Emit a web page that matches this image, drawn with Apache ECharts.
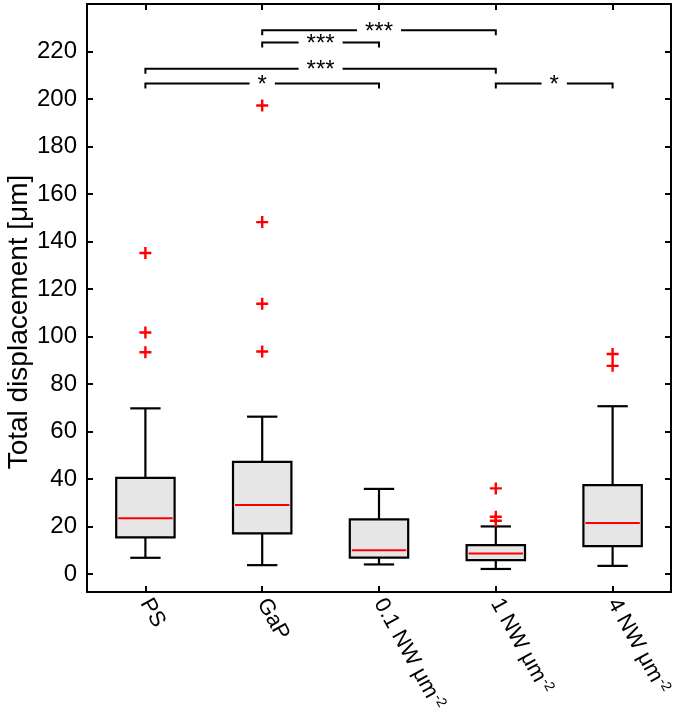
<!DOCTYPE html>
<html>
<head>
<meta charset="utf-8">
<script src="https://cdn.jsdelivr.net/npm/echarts@6/dist/echarts.min.js"></script>
<style>
  html, body { margin: 0; padding: 0; background: #fff; }
  #chart { width: 675px; height: 722px; }
</style>
</head>
<body>
<div id="chart"></div>
<script>
// ---- data ----
const categories = ['PS', 'GaP', '0.1 NW μm-2', '1 NW μm-2', '4 NW μm-2'];
const whiskerLow  = [6.9, 3.8, 4.1, 2.2, 3.5];
const quartile1   = [15.5, 17.2, 7.0, 5.9, 11.8];
const medians     = [23.5, 29.1, 10.1, 8.7, 21.5];
const quartile3   = [40.5, 47.3, 23.1, 12.2, 37.5];
const whiskerHigh = [69.8, 66.3, 35.9, 20.1, 70.7];

const outlierGroup = [0, 0, 0, 1, 1, 1, 1, 3, 3, 3, 4, 4];
const outlierValue = [135.2, 101.7, 93.4, 197.3, 148.2, 113.8, 93.7, 36.1, 24.2, 22.5, 92.7, 87.7];

const bracketFrom   = [1, 1, 0, 0, 3];
const bracketTo     = [3, 2, 3, 2, 4];
const bracketHeight = [228.9, 223.8, 212.7, 206.5, 206.5];
const bracketLabel  = ['***', '***', '***', '*', '*'];

const yTicks = [0, 20, 40, 60, 80, 100, 120, 140, 160, 180, 200, 220];

// ---- build ----
const boxData = categories.map((c, i) => [i, whiskerLow[i], quartile1[i], medians[i], quartile3[i], whiskerHigh[i]]);
const outlierData = outlierGroup.map((g, i) => [g, outlierValue[i]]);
const bracketData = bracketFrom.map((f, i) => [f, bracketHeight[i], bracketTo[i], i]);

const chart = echarts.init(document.getElementById('chart'), null, { renderer: 'canvas' });

const FONT = 'Liberation Sans, Arial, sans-serif';

function fmtCat(v) {
  const m = v.match(/^(.*μm)-2$/);
  if (m) return '{a|' + m[1] + '}{s|-2}';
  return '{a|' + v + '}';
}

const axisLineStyle = { show: true, onZero: false, lineStyle: { color: '#000', width: 2 } };
const tickStyle = { color: '#000', width: 2 };

const option = {
  animation: false,
  backgroundColor: '#fff',
  grid: { left: 87, right: 4, top: 4, bottom: 130, containLabel: false, outerBoundsMode: 'none' },
  xAxis: [
    {
      type: 'category', data: categories, position: 'bottom', boundaryGap: true,
      axisLine: axisLineStyle,
      axisTick: { show: true, inside: true, alignWithLabel: true, length: 6, lineStyle: tickStyle },
      axisLabel: {
        rotate: -61, margin: 8, color: '#000', fontFamily: FONT,
        formatter: fmtCat,
        rich: {
          a: { fontSize: 22, fontFamily: FONT, color: '#000' },
          s: { fontSize: 14, fontFamily: FONT, color: '#000', verticalAlign: 'top', padding: [0, 0, 9, 1] }
        }
      },
      splitLine: { show: false }
    },
    {
      type: 'category', data: categories, position: 'top', boundaryGap: true,
      axisLine: axisLineStyle,
      axisTick: { show: true, inside: true, alignWithLabel: true, length: 6, lineStyle: tickStyle },
      axisLabel: { show: false },
      splitLine: { show: false }
    }
  ],
  yAxis: [
    {
      type: 'value', min: -7.5, max: 240, position: 'left',
      axisLine: axisLineStyle,
      axisTick: { show: true, inside: true, length: 6, customValues: yTicks, lineStyle: tickStyle },
      axisLabel: { customValues: yTicks, fontSize: 24, fontFamily: FONT, color: '#000', margin: 10 },
      splitLine: { show: false }
    },
    {
      type: 'value', min: -7.5, max: 240, position: 'right',
      axisLine: axisLineStyle,
      axisTick: { show: true, inside: true, length: 6, customValues: yTicks, lineStyle: tickStyle },
      axisLabel: { show: false },
      splitLine: { show: false }
    }
  ],
  graphic: [
    {
      type: 'text', x: 19, y: 322, rotation: Math.PI / 2,
      style: { text: 'Total displacement [μm]', fontSize: 28, fontFamily: FONT, fill: '#000', align: 'center', verticalAlign: 'middle' }
    }
  ],
  series: [
    {
      type: 'custom', name: 'box', xAxisIndex: 0, yAxisIndex: 0,
      encode: { x: 0, y: [1, 2, 3, 4, 5] },
      data: boxData,
      renderItem: function (params, api) {
        const idx = api.value(0);
        const band = api.size([1, 0])[0];
        const bw = band * 0.5;
        const cw = band * 0.26;
        const pLow = api.coord([idx, api.value(1)]);
        const pQ1 = api.coord([idx, api.value(2)]);
        const pMed = api.coord([idx, api.value(3)]);
        const pQ3 = api.coord([idx, api.value(4)]);
        const pHigh = api.coord([idx, api.value(5)]);
        const x = pQ1[0];
        const line = { stroke: '#000', lineWidth: 2.2 };
        return {
          type: 'group',
          children: [
            { type: 'line', shape: { x1: x, y1: pLow[1], x2: x, y2: pQ1[1] }, style: line },
            { type: 'line', shape: { x1: x, y1: pQ3[1], x2: x, y2: pHigh[1] }, style: line },
            { type: 'line', shape: { x1: x - cw / 2, y1: pLow[1], x2: x + cw / 2, y2: pLow[1] }, style: line },
            { type: 'line', shape: { x1: x - cw / 2, y1: pHigh[1], x2: x + cw / 2, y2: pHigh[1] }, style: line },
            { type: 'rect', shape: { x: x - bw / 2, y: pQ3[1], width: bw, height: pQ1[1] - pQ3[1] },
              style: { fill: '#e6e6e6', stroke: '#000', lineWidth: 2.2 } },
            { type: 'line', shape: { x1: x - bw / 2 + 2, y1: pMed[1], x2: x + bw / 2 - 2, y2: pMed[1] },
              style: { stroke: '#ff0000', lineWidth: 2 } }
          ]
        };
      }
    },
    {
      type: 'scatter', name: 'outliers', xAxisIndex: 0, yAxisIndex: 0,
      data: outlierData,
      symbol: 'path://M4,0H6V4H10V6H6V10H4V6H0V4H4Z',
      symbolSize: 12,
      itemStyle: { color: '#ff0000', opacity: 1 }
    },
    {
      type: 'custom', name: 'brackets', xAxisIndex: 0, yAxisIndex: 0,
      encode: { x: 0, y: 1 },
      data: bracketData,
      renderItem: function (params, api) {
        const f = api.value(0);
        const h = api.value(1);
        const t = api.value(2);
        const i = api.value(3);
        const p1 = api.coord([f, h]);
        const p2 = api.coord([t, h]);
        const drop = 5;
        const mid = (p1[0] + p2[0]) / 2;
        return {
          type: 'group',
          children: [
            { type: 'polyline', shape: { points: [[p1[0], p1[1] + drop], [p1[0], p1[1]], [p2[0], p2[1]], [p2[0], p2[1] + drop]] },
              style: { stroke: '#000', lineWidth: 2, fill: null } },
            { type: 'text', x: mid, y: p1[1] + 2,
              style: { text: bracketLabel[i], fontSize: 24, fontFamily: FONT, fill: '#000', align: 'center', verticalAlign: 'middle',
                       backgroundColor: '#fff', padding: [0, 8] } }
          ]
        };
      }
    }
  ]
};

chart.setOption(option);
</script>
</body>
</html>
